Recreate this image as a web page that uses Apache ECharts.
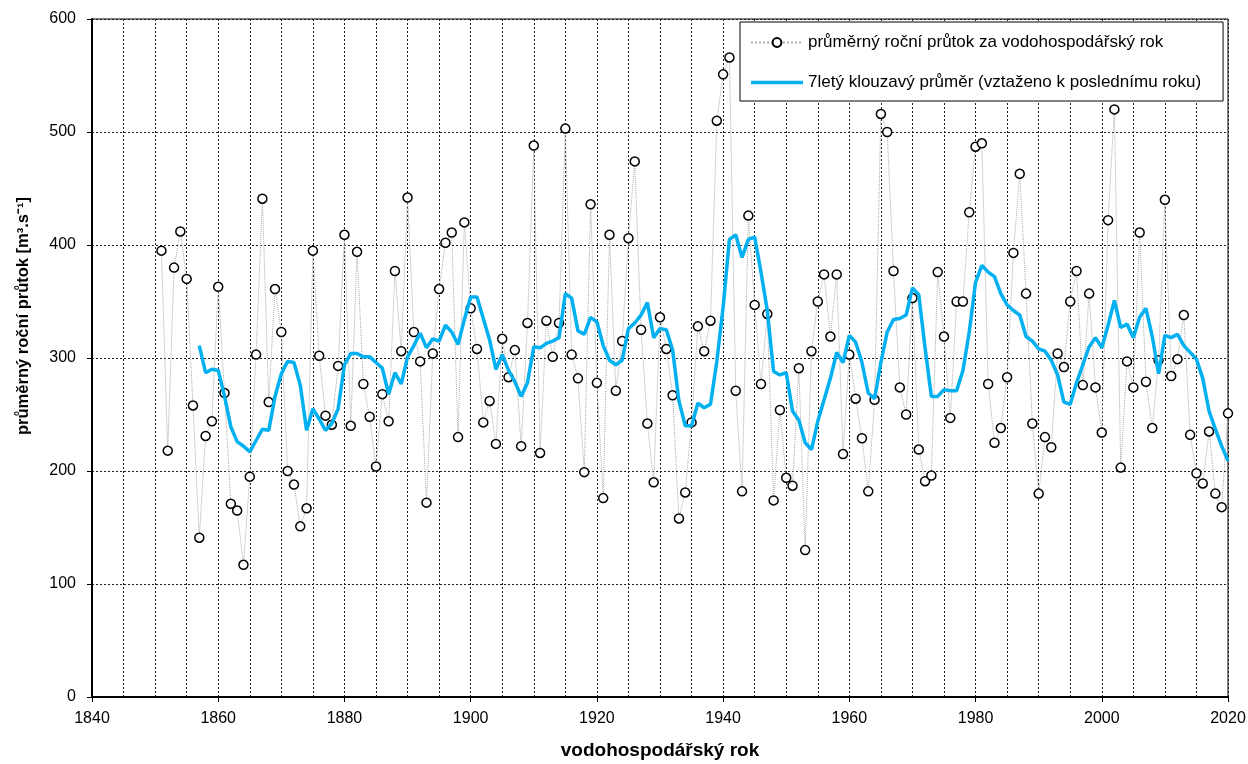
<!DOCTYPE html>
<html>
<head>
<meta charset="utf-8">
<script src="https://cdn.jsdelivr.net/npm/echarts@6/dist/echarts.min.js"></script>
<style>
  html, body { margin: 0; padding: 0; background: #fff; }
  #chart { width: 1248px; height: 764px; }
</style>
</head>
<body>
<div id="chart"></div>
<script>
// roky 1851-2020, průměrný roční průtok [m3/s]
const firstYear = 1851
const flow = [
    395, 218, 380, 412, 370, 258, 141, 231, 244, 363,
    269, 171, 165, 117, 195, 303, 441, 261, 361, 323,
    200, 188, 151, 167, 395, 302, 249, 241, 293, 409,
    240, 394, 277, 248, 204, 268, 244, 377, 306, 442,
    323, 297, 172, 304, 361, 402, 411, 230, 420, 344,
    308, 243, 262, 224, 317, 283, 307, 222, 331, 488,
    216, 333, 301, 331, 503, 303, 282, 199, 436, 278,
    176, 409, 271, 315, 406, 474, 325, 242, 190, 336,
    308, 267, 158, 181, 243, 328, 306, 333, 510, 551,
    566, 271, 182, 426, 347, 277, 339, 174, 254, 194,
    187, 291, 130, 306, 350, 374, 319, 374, 215, 303,
    264, 229, 182, 263, 516, 500, 377, 274, 250, 353,
    219, 191, 196, 376, 319, 247, 350, 350, 429, 487,
    490, 277, 225, 238, 283, 393, 463, 357, 242, 180,
    230, 221, 304, 292, 350, 377, 276, 357, 274, 234,
    422, 520, 203, 297, 274, 411, 279, 238, 298, 440,
    284, 299, 338, 232, 198, 189, 235, 180, 168, 251
]

// 7letý klouzavý průměr, roky 1857-2020
const maFirstYear = 1857
const movingAvg = [
    311, 287, 290, 289,
    266, 239, 226, 222, 217, 227, 237, 236, 266, 286,
    297, 296, 276, 236, 255, 246, 236, 242, 255, 294,
    304, 304, 301, 301, 296, 291, 268, 287, 277, 301,
    311, 322, 309, 317, 315, 329, 323, 312, 334, 354,
    354, 335, 316, 290, 303, 289, 279, 266, 278, 310,
    309, 313, 315, 318, 357, 353, 324, 321, 336, 332,
    311, 298, 294, 298, 326, 331, 338, 349, 318, 326,
    325, 307, 262, 240, 240, 260, 256, 259, 297, 345,
    405, 409, 389, 405, 407, 376, 342, 288, 285, 287,
    253, 245, 225, 219, 244, 263, 282, 305, 296, 320,
    314, 296, 269, 264, 296, 323, 334, 335, 338, 362,
    356, 309, 266, 266, 272, 271, 271, 289, 323, 367,
    382, 376, 372, 357, 347, 342, 338, 319, 315, 308,
    306, 298, 285, 261, 259, 278, 294, 310, 318, 309,
    329, 351, 327, 330, 318, 336, 344, 319, 286, 320,
    318, 321, 311, 305, 299, 282, 253, 237, 222, 209
]

const seriesNames = [
    'průměrný roční průtok za vodohospodářský rok',
    '7letý klouzavý průměr (vztaženo k poslednímu roku)'
]

const chart = echarts.init(document.getElementById('chart'))

const gridLine = {
    show: true,
    lineStyle: { color: '#222', width: 1, type: [2, 2] }
}

chart.setOption({
    backgroundColor: '#fff',
    textStyle: { fontFamily: 'Liberation Sans, Arial, sans-serif', color: '#000' },
    animation: false,
    grid: {
        left: 92,
        right: 20,
        top: 19,
        bottom: 67,
        outerBoundsMode: 'none',
        show: true,
        borderColor: '#000',
        borderWidth: 1
    },
    // popisek osy y zvlášť, v originále je posunutý nahoru
    graphic: [
        {
            type: 'text',
            x: 23,
            y: 316,
            rotation: Math.PI / 2,
            style: {
                text: 'průměrný roční průtok [m³.s⁻¹]',
                font: 'bold 16.5px Liberation Sans, Arial, sans-serif',
                fill: '#000',
                align: 'center',
                verticalAlign: 'middle'
            }
        }
    ],
    legend: {
        orient: 'vertical',
        left: 740,
        top: 22,
        padding: [12, 22, 10, 10],
        itemGap: 23,
        itemWidth: 52,
        itemHeight: 11,
        backgroundColor: '#fff',
        borderColor: '#000',
        borderWidth: 1,
        borderRadius: 0,
        textStyle: { fontSize: 17, color: '#000' },
        data: [
            { name: seriesNames[0] },
            { name: seriesNames[1], icon: 'path://M0,0 L52,0 L52,3.5 L0,3.5 Z' }
        ]
    },
    xAxis: {
        type: 'value',
        min: 1840,
        max: 2020,
        interval: 20,
        name: 'vodohospodářský rok',
        nameLocation: 'middle',
        nameGap: 44,
        nameTextStyle: { fontSize: 19, fontWeight: 'bold', color: '#000' },
        axisLine: { show: true, lineStyle: { color: '#000', width: 2 } },
        axisTick: { show: true, inside: false, length: 5, lineStyle: { color: '#000' } },
        axisLabel: { fontSize: 16, color: '#000', margin: 14, formatter: v => String(v) },
        splitLine: gridLine,
        minorTick: { show: false, splitNumber: 4 },
        minorSplitLine: gridLine
    },
    yAxis: {
        type: 'value',
        min: 0,
        max: 600,
        interval: 100,
        axisLine: { show: true, lineStyle: { color: '#000', width: 2 } },
        axisTick: { show: true, length: 5, lineStyle: { color: '#000' } },
        axisLabel: { fontSize: 16, color: '#000', margin: 16 },
        splitLine: gridLine
    },
    series: [
        {
            name: seriesNames[0],
            type: 'line',
            symbol: 'circle',
            symbolSize: 9,
            showAllSymbol: true,
            itemStyle: { color: '#fff', borderColor: '#000', borderWidth: 1.5 },
            lineStyle: { color: '#aaa', width: 1, type: 'dotted' },
            data: flow.map((v, i) => [firstYear + i, v]),
            z: 3
        },
        {
            name: seriesNames[1],
            type: 'line',
            symbol: 'none',
            itemStyle: { color: '#00b0f0' },
            lineStyle: { color: '#00b0f0', width: 3.5 },
            data: movingAvg.map((v, i) => [maFirstYear + i, v]),
            z: 4
        }
    ]
})
</script>
</body>
</html>
